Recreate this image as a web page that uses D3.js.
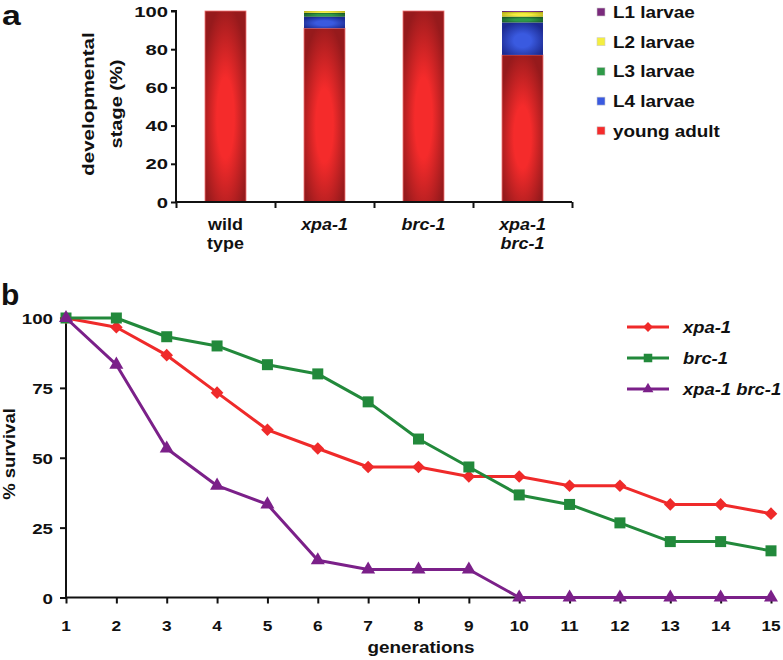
<!DOCTYPE html>
<html>
<head>
<meta charset="utf-8">
<script src="https://cdn.jsdelivr.net/npm/d3@7"></script>
<style>
  html, body { margin: 0; padding: 0; background: #fff; }
  svg { display: block; }
  text { font-family: "Liberation Sans", Arial, sans-serif; font-weight: bold; fill: #111; }
</style>
</head>
<body>
<svg id="chart" width="783" height="660"></svg>
<script>
// ---------- Panel a data ----------
const categories = ["wild type", "xpa-1", "brc-1", "xpa-1 brc-1"];
const categoryLines = [["wild", "type"], ["xpa-1"], ["brc-1"], ["xpa-1", "brc-1"]];
const categoryItalic = [false, true, true, true];
const stageKeys = ["young adult", "L4 larvae", "L3 larvae", "L2 larvae", "L1 larvae"];
const youngAdult = [100, 91, 100, 77];
const L4larvae = [0, 6, 0, 17];
const L3larvae = [0, 2, 0, 3];
const L2larvae = [0, 1, 0, 2.5];
const L1larvae = [0, 0, 0, 0.5];
const legendAOrder = ["L1 larvae", "L2 larvae", "L3 larvae", "L4 larvae", "young adult"];
const yTicksA = [0, 20, 40, 60, 80, 100];

// ---------- Panel b data ----------
const generations = [1, 2, 3, 4, 5, 6, 7, 8, 9, 10, 11, 12, 13, 14, 15];
const xpa1 = [100, 96.7, 86.7, 73.3, 60, 53.3, 46.7, 46.7, 43.3, 43.3, 40, 40, 33.3, 33.3, 30];
const brc1 = [100, 100, 93.3, 90, 83.3, 80, 70, 56.7, 46.7, 36.7, 33.3, 26.7, 20, 20, 16.7];
const xpa1brc1 = [100, 83.3, 53.3, 40, 33.3, 13.3, 10, 10, 10, 0, 0, 0, 0, 0, 0];
const seriesNames = ["xpa-1", "brc-1", "xpa-1 brc-1"];
const yTicksB = [0, 25, 50, 75, 100];

const stageColors = {
  "young adult": ["#f52b2b", "#961a1c"],
  "L4 larvae": ["#3a5ae0", "#1c2a90"],
  "L3 larvae": ["#2f9a48", "#1a5a28"],
  "L2 larvae": ["#f4ee40", "#b8b018"],
  "L1 larvae": ["#7a2a7c", "#4a124c"]
};
const lineColors = { "xpa-1": "#ef2a2a", "brc-1": "#22893b", "xpa-1 brc-1": "#7b2089" };

const svg = d3.select("#chart");
const defs = svg.append("defs");

// helper: stretched text
function stext(parent, x, y, str, o) {
  o = o || {};
  const g = parent.append("g").attr("transform", `translate(${x},${y}) rotate(${o.rot || 0})`);
  g.append("text")
    .attr("transform", `scale(${o.sx || 1},1)`)
    .attr("text-anchor", o.anchor || "start")
    .attr("font-size", o.size || 16)
    .attr("font-style", o.italic ? "italic" : "normal")
    .text(str);
  return g;
}

// gradients
Object.entries(stageColors).forEach(([k, c], i) => {
  const gr = defs.append("radialGradient").attr("id", "grad" + i)
    .attr("cx", 0.5).attr("cy", 0.56).attr("r", 0.6);
  gr.append("stop").attr("offset", "0").attr("stop-color", c[0]);
  gr.append("stop").attr("offset", "0.35").attr("stop-color", c[0]);
  gr.append("stop").attr("offset", "1").attr("stop-color", c[1]);
  stageColors[k].push("url(#grad" + i + ")");
});

// ================= Panel a =================
const aLeft = 176, aRight = 572, aTop = 11, aBottom = 202;
const xA = d3.scaleBand().domain(categories).range([aLeft, aRight]).paddingInner(0.586).paddingOuter(0.293);
const xABound = d3.scaleLinear().domain([0, categories.length]).range([aLeft, aRight]);
const yA = d3.scaleLinear().domain([0, 100]).range([aBottom, aTop]);

const tableA = categories.map((c, i) => ({
  cat: c,
  "young adult": youngAdult[i],
  "L4 larvae": L4larvae[i],
  "L3 larvae": L3larvae[i],
  "L2 larvae": L2larvae[i],
  "L1 larvae": L1larvae[i]
}));
const stacked = d3.stack().keys(stageKeys)(tableA);

const gA = svg.append("g");
stacked.forEach(layer => {
  gA.append("g").selectAll("rect").data(layer.filter(d => d[1] - d[0] > 0)).join("rect")
    .attr("x", d => xA(d.data.cat))
    .attr("width", xA.bandwidth())
    .attr("y", d => yA(d[1]))
    .attr("height", d => yA(d[0]) - yA(d[1]))
    .attr("fill", stageColors[layer.key][2])
    .attr("stroke", layer.key === "young adult" ? "#f07070" : "none")
    .attr("stroke-width", 0.8);
});

// y axis a
const yAxisA = gA.append("g").attr("transform", `translate(${aLeft},0)`)
  .call(d3.axisLeft(yA).tickValues(yTicksA).tickSize(5).tickFormat(""));
yAxisA.select(".domain").attr("stroke", "#111").attr("stroke-width", 2).attr("d", `M-5,${yA(100)}H0V${yA(0)}`);
yAxisA.selectAll(".tick line").attr("stroke", "#111").attr("stroke-width", 2);
yTicksA.forEach(t => stext(gA, aLeft - 8, yA(t) + 5.5, String(t), { anchor: "end", size: 15, sx: 1.35 }));

// x axis a
const xAxisA = gA.append("g").attr("transform", `translate(0,${aBottom})`)
  .call(d3.axisBottom(xABound).ticks(4).tickSize(6).tickFormat(""));
xAxisA.select(".domain").attr("stroke", "#111").attr("stroke-width", 2).attr("d", `M${aLeft},0H${aRight}`);
xAxisA.selectAll(".tick line").attr("stroke", "#111").attr("stroke-width", 2);
categories.forEach((c, i) => {
  const cx = xA(c) + xA.bandwidth() / 2;
  categoryLines[i].forEach((ln, j) => {
    stext(gA, cx, 230 + j * 19, ln, { anchor: "middle", size: 16, sx: 1.12, italic: categoryItalic[i] });
  });
});

// y label a
stext(gA, 94, 104, "developmental", { anchor: "middle", size: 16, sx: 1.28, rot: -90 });
stext(gA, 122, 104, "stage (%)", { anchor: "middle", size: 16, sx: 1.25, rot: -90 });

// legend a
legendAOrder.forEach((k, i) => {
  const cy = 12 + i * 29.7;
  gA.append("rect").attr("x", 597).attr("y", cy - 4).attr("width", 8).attr("height", 8)
    .attr("fill", stageColors[k][0]).attr("stroke", "#ccc").attr("stroke-width", 0.6);
  stext(gA, 613, cy + 6, k, { size: 16, sx: 1.18 });
});

// panel label a
stext(svg, 2, 24.5, "a", { size: 27, sx: 1.25 });

// ================= Panel b =================
const bLeft = 66, bRight = 771, bTop = 318, bBottom = 597.5;
const xB = d3.scaleLinear().domain([1, 15]).range([bLeft, bRight]);
const yB = d3.scaleLinear().domain([0, 100]).range([bBottom, bTop]);
const gB = svg.append("g");

// axes b
const yAxisB = gB.append("g").attr("transform", `translate(${bLeft},0)`)
  .call(d3.axisLeft(yB).tickValues(yTicksB).tickSize(6).tickFormat(""));
yAxisB.select(".domain").attr("stroke", "#111").attr("stroke-width", 2).attr("d", `M0,${yB(100)}V${yB(0)}`);
yAxisB.selectAll(".tick line").attr("stroke", "#111").attr("stroke-width", 2);
yTicksB.forEach(t => stext(gB, 53, yB(t) + 6, String(t), { anchor: "end", size: 15, sx: 1.25 }));

const xAxisB = gB.append("g").attr("transform", `translate(0,${bBottom})`)
  .call(d3.axisBottom(xB).tickValues(generations).tickSize(6).tickFormat(""));
xAxisB.select(".domain").attr("stroke", "#111").attr("stroke-width", 2).attr("d", `M${bLeft},0H${bRight}`);
xAxisB.selectAll(".tick line").attr("stroke", "#111").attr("stroke-width", 2);
generations.forEach(g => stext(gB, xB(g), 631, String(g), { anchor: "middle", size: 15, sx: 1.15 }));

stext(gB, 421, 653, "generations", { anchor: "middle", size: 16, sx: 1.18 });
stext(gB, 15, 454, "% survival", { anchor: "middle", size: 16, sx: 1.16, rot: -90 });

// series
const seriesData = [xpa1, brc1, xpa1brc1];
const symbols = {
  "xpa-1": { type: d3.symbolSquare, size: 80, rot: 45 },
  "brc-1": { type: d3.symbolSquare, size: 121, rot: 0 },
  "xpa-1 brc-1": { type: d3.symbolTriangle, size: 85, rot: 0 }
};
const line = d3.line().x(d => xB(d.g)).y(d => yB(d.v));
seriesNames.forEach((name, si) => {
  const pts = generations.map((g, i) => ({ g, v: seriesData[si][i] }));
  const col = lineColors[name];
  gB.append("path").datum(pts).attr("d", line)
    .attr("fill", "none").attr("stroke", col).attr("stroke-width", 3).attr("stroke-linejoin", "round");
  const s = symbols[name];
  gB.append("g").selectAll("path").data(pts).join("path")
    .attr("transform", d => `translate(${xB(d.g)},${yB(d.v)}) rotate(${s.rot})`)
    .attr("d", d3.symbol().type(s.type).size(s.size))
    .attr("fill", col);
});

// legend b
seriesNames.forEach((name, i) => {
  const cy = 327 + i * 31;
  const col = lineColors[name];
  gB.append("line").attr("x1", 627).attr("x2", 669).attr("y1", cy).attr("y2", cy)
    .attr("stroke", col).attr("stroke-width", 3);
  const s = symbols[name];
  gB.append("path").attr("transform", `translate(648,${cy}) rotate(${s.rot})`)
    .attr("d", d3.symbol().type(s.type).size(s.size * 0.6)).attr("fill", col);
  stext(gB, 683, cy + 6, name, { size: 16, sx: 1.15, italic: true });
});

// panel label b
stext(svg, 1, 305, "b", { size: 30 });
</script>
</body>
</html>
